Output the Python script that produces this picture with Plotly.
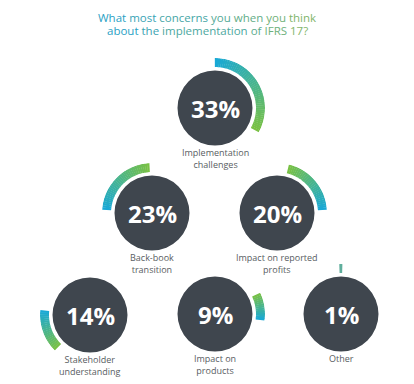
import plotly.graph_objects as go

# ---- data ----
values = [33, 23, 20, 14, 9, 1]
labels = ["Implementation<br>challenges", "Back-book<br>transition",
          "Impact on reported<br>profits", "Stakeholder<br>understanding",
          "Impact on<br>products", "Other"]
title_lines = ["What most concerns you when you think",
               "about the implementation of IFRS 17?"]

# ---- layout / style ----
W, H = 414, 384
centers = [(215, 108), (152, 213), (277, 213), (90, 315), (215, 314), (341, 314)]
start_deg = [0, 274, 14, 225, 65, -2]
grad = [("#17a8d8", "#7bc143"), ("#17a8d8", "#7bc143"), ("#7bc143", "#17a8d8"),
        ("#7bc143", "#17a8d8"), ("#7bc143", "#17a8d8"), ("#5fae9c", "#5fae9c")]
R_OUT, R_IN, R_CIRC = 50, 41, 37.5
DARK = "#3f464e"
FONT = "Open Sans"


def hex2rgb(h):
    h = h.lstrip("#")
    return tuple(int(h[i:i + 2], 16) for i in (0, 2, 4))


def mix(c1, c2, t):
    a, b = hex2rgb(c1), hex2rgb(c2)
    return "rgb(%d,%d,%d)" % tuple(round(a[k] + (b[k] - a[k]) * t) for k in range(3))


fig = go.Figure()
annotations = []
for i, v in enumerate(values):
    sub = "polar" if i == 0 else "polar%d" % (i + 1)
    cx, cy = centers[i]
    # dark disc
    fig.add_trace(go.Barpolar(r=[R_CIRC], theta=[0], width=[360], base=0,
                              marker=dict(color=DARK, line=dict(width=0)),
                              subplot=sub, hoverinfo="skip", showlegend=False))
    # gradient arc (value * 3.6 degrees)
    span = v * 3.6
    n = max(1, int(round(span / 2.5)))
    step = span / n
    thetas = [start_deg[i] + (k + 0.5) * step for k in range(n)]
    cols = [mix(grad[i][0], grad[i][1], (k + 0.5) / n) for k in range(n)]
    fig.add_trace(go.Barpolar(r=[R_OUT - R_IN] * n, theta=thetas,
                              width=[step + (0.4 if n > 1 else 0)] * n, base=R_IN,
                              marker=dict(color=cols, line=dict(width=0)),
                              subplot=sub, hoverinfo="skip", showlegend=False))
    fig.layout[sub] = dict(
        domain=dict(x=[(cx - R_OUT) / W, (cx + R_OUT) / W],
                    y=[1 - (cy + R_OUT) / H, 1 - (cy - R_OUT) / H]),
        bgcolor="rgba(0,0,0,0)", hole=0,
        radialaxis=dict(range=[0, R_OUT], visible=False),
        angularaxis=dict(visible=False, rotation=90, direction="clockwise"))
    annotations.append(dict(x=cx / W, y=1 - cy / H, xref="paper", yref="paper",
                            text="<b>%d%%</b>" % v, showarrow=False,
                            xanchor="center", yanchor="middle",
                            font=dict(family=FONT, size=24, color="white")))
    annotations.append(dict(x=cx / W, y=1 - (cy + 36) / H, xref="paper", yref="paper",
                            text=labels[i], showarrow=False,
                            xanchor="center", yanchor="top",
                            font=dict(family=FONT, size=9, color="#585d62")))

# title with a word-level teal->green tint
for j, line in enumerate(title_lines):
    words = line.split(" ")
    parts = []
    for k, w in enumerate(words):
        t = k / max(1, len(words) - 1)
        parts.append('<span style="color:%s">%s</span>' % (mix("#2a9fc4", "#7fb56a", t), w))
    annotations.append(dict(x=0.5, y=1 - (17 + 14 * j) / H, xref="paper", yref="paper",
                            text=" ".join(parts), showarrow=False,
                            xanchor="center", yanchor="middle",
                            font=dict(family=FONT, size=11.5, color="#3aa6b0")))

fig.update_layout(width=W, height=H, margin=dict(l=0, r=0, t=0, b=0),
                  paper_bgcolor="white", plot_bgcolor="white",
                  annotations=annotations, showlegend=False)
fig.write_html("out.html", config={"displayModeBar": False},
               post_script="document.body.style.margin='0';document.body.style.overflow='hidden';")
